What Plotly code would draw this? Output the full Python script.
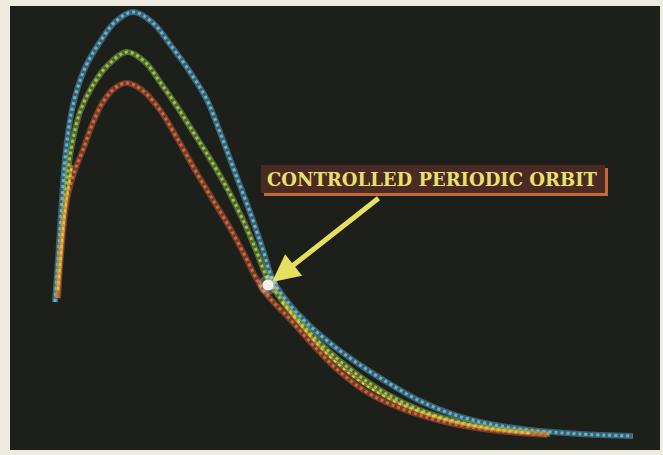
import plotly.graph_objects as go

# Points (x to the right, y downward, pixel-like units)
blue_x = [55, 58, 62, 66, 73, 85, 100, 115, 133, 152, 172, 190, 207, 221, 236, 251, 263, 273, 290, 310, 335, 360, 390, 420, 455, 490, 530, 580, 633]
blue_y = [302, 260, 200, 150, 105, 68, 42, 22, 12, 22, 47, 72, 100, 135, 175, 215, 250, 280, 305, 326, 347, 365, 384, 401, 415, 424, 430, 434, 436]

green_x = [57, 60, 65, 71, 80, 93, 108, 127, 145, 160, 178, 195, 212, 228, 243, 256, 266, 280, 300, 325, 355, 385, 420, 455, 490, 550]
green_y = [298, 255, 200, 150, 112, 85, 65, 52, 62, 82, 108, 135, 162, 190, 220, 250, 275, 298, 322, 348, 373, 393, 410, 421, 428, 434]

red_x = [58, 61, 67, 75, 83, 92, 103, 115, 127, 142, 160, 177, 195, 213, 230, 245, 256, 267, 288, 313, 340, 370, 405, 445, 490, 547]
red_y = [298, 255, 200, 170, 150, 125, 102, 88, 83, 90, 110, 138, 170, 200, 228, 256, 278, 295, 317, 345, 372, 394, 410, 422, 430, 435]

yellow_x = [58, 61, 64, 68, 72, None, 282, 300, 320, 345, 370, 400, 430, 460, 500, 530]
yellow_y = [290, 255, 220, 190, 165, None, 302, 324, 347, 370, 388, 404, 415, 423, 430, 433]

orbit_x = [268]
orbit_y = [285]

label_text = "CONTROLLED PERIODIC ORBIT"

BG_PAPER = "#eeebe1"
BG_PLOT = "#1c1f1a"

fig = go.Figure()

def band(x, y, color, w_glow, w_dot):
    fig.add_trace(go.Scatter(x=x, y=y, mode="lines", line=dict(color=color, width=w_glow, shape="spline", smoothing=1.0),
                             opacity=0.45, hoverinfo="skip", showlegend=False, connectgaps=False))
    fig.add_trace(go.Scatter(x=x, y=y, mode="lines", line=dict(color=color, width=w_dot, shape="spline", smoothing=1.0, dash="dot"),
                             opacity=1.0, hoverinfo="skip", showlegend=False, connectgaps=False))

band(blue_x, blue_y, "#63b5d8", 6, 3)
band(green_x, green_y, "#9cc24e", 6, 3)
band(red_x, red_y, "#d9653c", 6, 3)
band(yellow_x, yellow_y, "#e0c844", 3, 2)

# glowing white circle at controlled orbit
fig.add_trace(go.Scatter(x=orbit_x, y=orbit_y, mode="markers",
                         marker=dict(size=20, color="rgba(255,255,255,0.25)", line=dict(width=0)),
                         hoverinfo="skip", showlegend=False))
fig.add_trace(go.Scatter(x=orbit_x, y=orbit_y, mode="markers",
                         marker=dict(size=11, color="#f2f0ea", line=dict(width=0)),
                         hoverinfo="skip", showlegend=False))

# label box: orange shadow + brown box
fig.add_shape(type="rect", x0=264, x1=608, y0=168, y1=196, xref="x", yref="y",
              fillcolor="#c26a38", line=dict(width=0), layer="above")
fig.add_shape(type="rect", x0=261, x1=605, y0=165, y1=193, xref="x", yref="y",
              fillcolor="#4a2a22", line=dict(width=0), layer="above")

fig.add_annotation(x=432, y=179, xref="x", yref="y", text="<b>" + label_text + "</b>", showarrow=False,
                   font=dict(family="DejaVu Serif", size=18, color="#e9e06e"))

# arrow
fig.add_annotation(x=orbit_x[0] + 4, y=orbit_y[0] - 3, ax=380, ay=197, axref="x", ayref="y",
                   xref="x", yref="y", text="", showarrow=True, arrowhead=2, arrowsize=1.1,
                   arrowwidth=5, arrowcolor="#e6df60")

fig.update_layout(
    width=663, height=455,
    margin=dict(l=10, r=3, t=6, b=5),
    paper_bgcolor=BG_PAPER, plot_bgcolor=BG_PLOT,
    xaxis=dict(range=[10, 660], visible=False, fixedrange=True),
    yaxis=dict(range=[450, 6], visible=False, fixedrange=True),
    showlegend=False,
)

fig.write_html("out.html", config={"displayModeBar": False},
               post_script="document.body.style.margin='0';")
